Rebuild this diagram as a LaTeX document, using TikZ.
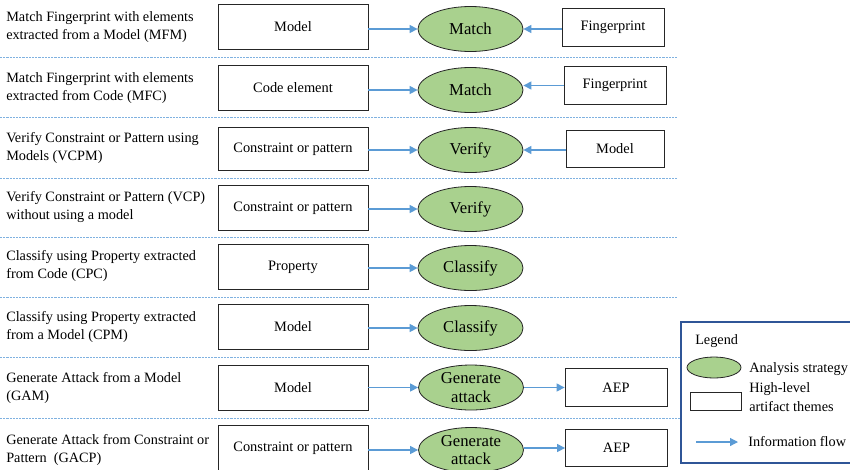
\documentclass[tikz,border=0pt]{standalone}
\usepackage{fontspec}
\setmainfont{Liberation Serif}
\usetikzlibrary{shapes.geometric,arrows.meta}
\definecolor{flow}{HTML}{5B9BD5}
\definecolor{strat}{HTML}{A9D18E}
\definecolor{sep}{HTML}{7FB1E0}
\definecolor{legb}{HTML}{2F5597}
\tikzset{
  px/.style={x=0.75pt,y=-0.75pt},
  lbl/.style={anchor=west,align=left,inner sep=0pt,font=\fontsize{10.7pt}{14pt}\selectfont},
  art/.style={draw=black!85,line width=0.6pt,rectangle,inner sep=0pt,font=\fontsize{10.8pt}{13pt}\selectfont},
  bigart/.style={art,minimum width=112.5pt,minimum height=33.75pt},
  smallart/.style={art,minimum width=76.5pt,minimum height=28pt},
  strategy/.style={draw=black!85,line width=0.6pt,ellipse,fill=strat,inner sep=0pt,minimum width=78.75pt,minimum height=33.75pt,align=center,font=\fontsize{12.5pt}{14pt}\selectfont},
  flowarrow/.style={draw=flow,line width=0.9pt,-{Triangle[length=6pt,width=6pt]}},
  sepline/.style={draw=sep,line width=0.7pt,dash pattern=on 1.6pt off 0.8pt}
}
\begin{document}
\begin{tikzpicture}[px]
\useasboundingbox (0,0) rectangle (850,469);
% separators
\foreach \y in {57,117,178,237,297}{\draw[sepline] (0,\y) -- (678,\y);}
\foreach \y in {357,418}{\draw[sepline] (0,\y) -- (681,\y);}
% left labels
\node[lbl] (l1) at (6,27) {Match Fingerprint with elements\\extracted from a Model (MFM)};
\node[lbl] (l2) at (6,88) {Match Fingerprint with elements\\extracted from Code (MFC)};
\node[lbl] (l3) at (6,148) {Verify Constraint or Pattern using\\Models (VCPM)};
\node[lbl] (l4) at (6,207) {Verify Constraint or Pattern (VCP)\\without using a model};
\node[lbl] (l5) at (6,266) {Classify using Property extracted\\from Code (CPC)};
\node[lbl] (l6) at (6,327) {Classify using Property extracted\\from a Model (CPM)};
\node[lbl] (l7) at (6,388) {Generate Attack from a Model\\(GAM)};
\node[lbl] (l8) at (6,450) {Generate Attack from Constraint or\\Pattern\ \ (GACP)};
% artifact boxes
\node[bigart] (a1) at (293,26.5) {Model};
\node[bigart] (a2) at (293,87.5) {Code element};
\node[bigart,minimum height=32pt] (a3) at (293,149) {Constraint or pattern};
\node[bigart] (a4) at (293,208) {Constraint or pattern};
\node[bigart] (a5) at (293,267) {Property};
\node[bigart] (a6) at (293,327) {Model};
\node[bigart] (a7) at (293,387.5) {Model};
\node[bigart] (a8) at (293,448) {Constraint or pattern};
% strategies
\node[strategy] (s1) at (470.5,29) {Match};
\node[strategy] (s2) at (470.5,90) {Match};
\node[strategy] (s3) at (470.5,150) {Verify};
\node[strategy] (s4) at (470.5,209) {Verify};
\node[strategy] (s5) at (470.5,268) {Classify};
\node[strategy] (s6) at (470.5,328) {Classify};
\node[strategy] (s7) at (471,387.5) {Generate\\attack};
\node[strategy] (s8) at (471,450) {Generate\\attack};
% right boxes
\node[smallart] (b1) at (613,27.5) {Fingerprint};
\node[smallart] (b2) at (615,85.5) {Fingerprint};
\node[smallart,minimum width=73.5pt] (b3) at (615,149) {Model};
\node[smallart] (b7) at (616,387.5) {AEP};
\node[smallart] (b8) at (616.5,448) {AEP};
% arrows
\foreach \i in {1,...,8}{\draw[flowarrow] (a\i.east |- s\i.west) -- (s\i.west);}
\draw[flowarrow] (b1.west |- s1.east) -- (s1.east);
\draw[flowarrow] (b2.west) -- (s2.east |- b2.west);
\draw[flowarrow] (b3.west |- s3.east) -- (s3.east);
\draw[flowarrow] (s7.east) -- (b7.west |- s7.east);
\draw[flowarrow] (s8.east |- b8.west) -- (b8.west);
% legend
\draw[draw=legb,line width=0.8pt] (681,322) rectangle (860,463);
\node[lbl] (lt) at (695,341) {Legend};
\node[draw=black!85,line width=0.6pt,ellipse,fill=strat,minimum width=40.5pt,minimum height=15.75pt,inner sep=0pt] (le) at (714,367.5) {};
\node[lbl] (ltx) at (749,369) {Analysis strategy};
\node[draw=black!85,line width=0.6pt,minimum width=38.25pt,minimum height=13.5pt,inner sep=0pt] (lr) at (715.5,401) {};
\node[lbl] (lrx) at (749,397) {High-level\\artifact themes};
\coordinate (lf1) at (696,442);
\coordinate (lf2) at (738,442);
\draw[flowarrow] (lf1) -- (lf2);
\node[lbl] (lfx) at (748,442) {Information flow};
\end{tikzpicture}
\end{document}
